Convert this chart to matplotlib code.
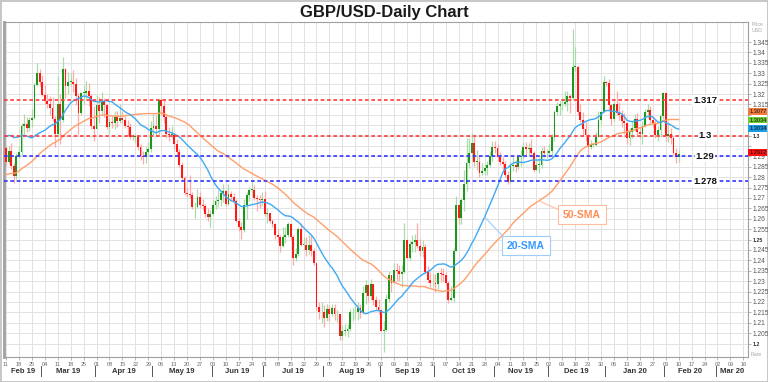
import numpy as np
import pandas as pd
import matplotlib.pyplot as plt
import matplotlib.transforms as mtransforms

plt.rcParams['font.family'] = ['Liberation Sans', 'DejaVu Sans']

# closes from 3 Dec 2018 to 8 Feb 2019, only used to seed the moving averages
prior_closes = [1.2740, 1.2725, 1.2735, 1.2770, 1.2725,
                1.2560, 1.2490, 1.2640, 1.2640, 1.2580,
                1.2625, 1.2650, 1.2630, 1.2660, 1.2650,
                1.2680, 1.2675, 1.2630, 1.2650, 1.2720,
                1.2750, 1.2750, 1.2610, 1.2635, 1.2730,
                1.2780, 1.2730, 1.2745, 1.2760, 1.2860,
                1.2870, 1.2830, 1.2865, 1.3000, 1.2875,
                1.2870, 1.2930, 1.3045, 1.3070, 1.3190,
                1.3165, 1.3075, 1.3120, 1.3115, 1.3075,
                1.3045, 1.2945, 1.2940, 1.2945, 1.2940]

# daily candles, 11 Feb 2019 - 10 Feb 2020 (one row per week)
closes = [1.2875, 1.2925, 1.2855, 1.2805, 1.2900,
          1.2920, 1.3045, 1.3055, 1.3035, 1.3075,
          1.3085, 1.3245, 1.3300, 1.3260, 1.3195,
          1.3165, 1.3150, 1.3135, 1.3080, 1.3010,
          1.3150, 1.3075, 1.3320, 1.3240, 1.3260,
          1.3260, 1.3250, 1.3190, 1.3110, 1.3205,
          1.3205, 1.3215, 1.3190, 1.3045, 1.3030,
          1.3145, 1.3120, 1.3165, 1.3145, 1.3040,
          1.3065, 1.3060, 1.3090, 1.3070, 1.3085,
          1.3075, 1.3045, 1.3040, 1.2995, 1.2995,
          1.2995, 1.2945, 1.2900, 1.2895, 1.2920,
          1.2935, 1.3035, 1.3045, 1.3030, 1.3170,
          1.3140, 1.3090, 1.3010, 1.3005, 1.3005,
          1.2960, 1.2920, 1.2860, 1.2795, 1.2725,
          1.2720, 1.2715, 1.2655, 1.2655, 1.2705,
          1.2665, 1.2660, 1.2625, 1.2610, 1.2625,
          1.2665, 1.2685, 1.2690, 1.2725, 1.2735,
          1.2670, 1.2720, 1.2705, 1.2685, 1.2590,
          1.2560, 1.2545, 1.2665, 1.2715, 1.2740,
          1.2740, 1.2700, 1.2695, 1.2690, 1.2695,
          1.2625, 1.2630, 1.2590, 1.2575, 1.2520,
          1.2510, 1.2470, 1.2510, 1.2520, 1.2575,
          1.2510, 1.2410, 1.2430, 1.2550, 1.2475,
          1.2475, 1.2450, 1.2475, 1.2445, 1.2385,
          1.2175, 1.2150, 1.2150, 1.2125, 1.2165,
          1.2140, 1.2170, 1.2140, 1.2140, 1.2035,
          1.2060, 1.2060, 1.2070, 1.2150, 1.2150,
          1.2150, 1.2170, 1.2145, 1.2245, 1.2280,
          1.2230, 1.2285, 1.2210, 1.2175, 1.2160,
          1.2060, 1.2065, 1.2215, 1.2330, 1.2290,
          1.2355, 1.2350, 1.2335, 1.2345, 1.2500,
          1.2410, 1.2480, 1.2490, 1.2500, 1.2470,
          1.2445, 1.2465, 1.2345, 1.2305, 1.2290,
          1.2290, 1.2285, 1.2340, 1.2335, 1.2330,
          1.2290, 1.2210, 1.2220, 1.2445, 1.2665,
          1.2605, 1.2690, 1.2765, 1.2870, 1.2915,
          1.2965, 1.2875, 1.2875, 1.2820, 1.2830,
          1.2845, 1.2860, 1.2900, 1.2945, 1.2940,
          1.2895, 1.2875, 1.2865, 1.2810, 1.2775,
          1.2855, 1.2860, 1.2850, 1.2895, 1.2900,
          1.2945, 1.2935, 1.2940, 1.2915, 1.2835,
          1.2860, 1.2860, 1.2925, 1.2915, 1.2915,
          1.2925, 1.2995, 1.3115, 1.3140, 1.3150,
          1.3150, 1.3160, 1.3190, 1.3180, 1.3330,
          1.3330, 1.3115, 1.3075, 1.3030, 1.3005,
          1.2945, 1.2955, 1.2955, 1.2995, 1.3075,
          1.3115, 1.3260, 1.3255, 1.3145, 1.3080,
          1.3150, 1.3110, 1.3100, 1.3070, 1.3060,
          1.2990, 1.3015, 1.3035, 1.3080, 1.3015,
          1.3010, 1.3045, 1.3115, 1.3125, 1.3075,
          1.3060, 1.3005, 1.3025, 1.3095, 1.3205,
          1.3000, 1.3010, 1.2990, 1.2915, 1.2895,
          1.2912]

highs = [1.2950, 1.2950, 1.2965, 1.2870, 1.2915,
         1.2950, 1.3060, 1.3105, 1.3090, 1.3090,
         1.3130, 1.3255, 1.3350, 1.3320, 1.3290,
         1.3245, 1.3200, 1.3190, 1.3185, 1.3095,
         1.3285, 1.3200, 1.3380, 1.3325, 1.3305,
         1.3300, 1.3315, 1.3275, 1.3205, 1.3210,
         1.3245, 1.3265, 1.3255, 1.3200, 1.3140,
         1.3195, 1.3185, 1.3210, 1.3180, 1.3150,
         1.3085, 1.3095, 1.3120, 1.3120, 1.3150,
         1.3120, 1.3095, 1.3075, 1.3060, 1.3010,
         1.3010, 1.3005, 1.2960, 1.2925, 1.2945,
         1.2970, 1.3070, 1.3105, 1.3100, 1.3176,
         1.3180, 1.3175, 1.3100, 1.3040, 1.3045,
         1.3015, 1.2985, 1.2935, 1.2875, 1.2805,
         1.2750, 1.2810, 1.2730, 1.2680, 1.2745,
         1.2730, 1.2695, 1.2670, 1.2650, 1.2640,
         1.2690, 1.2710, 1.2740, 1.2740, 1.2765,
         1.2740, 1.2765, 1.2735, 1.2725, 1.2695,
         1.2605, 1.2585, 1.2695, 1.2730, 1.2755,
         1.2785, 1.2760, 1.2715, 1.2715, 1.2730,
         1.2735, 1.2650, 1.2630, 1.2600, 1.2580,
         1.2550, 1.2520, 1.2560, 1.2560, 1.2585,
         1.2580, 1.2520, 1.2460, 1.2560, 1.2580,
         1.2510, 1.2510, 1.2520, 1.2520, 1.2460,
         1.2385, 1.2200, 1.2200, 1.2185, 1.2190,
         1.2185, 1.2190, 1.2190, 1.2160, 1.2140,
         1.2090, 1.2095, 1.2095, 1.2165, 1.2170,
         1.2180, 1.2200, 1.2190, 1.2275, 1.2305,
         1.2280, 1.2310, 1.2285, 1.2230, 1.2215,
         1.2160, 1.2110, 1.2240, 1.2350, 1.2330,
         1.2385, 1.2385, 1.2380, 1.2380, 1.2580,
         1.2505, 1.2495, 1.2520, 1.2525, 1.2580,
         1.2505, 1.2500, 1.2480, 1.2375, 1.2345,
         1.2335, 1.2335, 1.2345, 1.2365, 1.2365,
         1.2345, 1.2300, 1.2275, 1.2460, 1.2710,
         1.2665, 1.2700, 1.2835, 1.2990, 1.2990,
         1.3012, 1.3000, 1.2930, 1.2900, 1.2870,
         1.2865, 1.2880, 1.2925, 1.2975, 1.2975,
         1.2960, 1.2920, 1.2895, 1.2880, 1.2830,
         1.2875, 1.2895, 1.2885, 1.2900, 1.2930,
         1.2970, 1.2970, 1.2965, 1.2985, 1.2925,
         1.2890, 1.2895, 1.2945, 1.2950, 1.2935,
         1.2960, 1.3010, 1.3125, 1.3160, 1.3165,
         1.3180, 1.3215, 1.3215, 1.3200, 1.3514,
         1.3425, 1.3340, 1.3150, 1.3115, 1.3065,
         1.3010, 1.2980, 1.2965, 1.3015, 1.3120,
         1.3120, 1.3285, 1.3265, 1.3270, 1.3150,
         1.3165, 1.3215, 1.3160, 1.3125, 1.3110,
         1.3060, 1.3035, 1.3070, 1.3105, 1.3110,
         1.3040, 1.3070, 1.3130, 1.3150, 1.3140,
         1.3095, 1.3075, 1.3045, 1.3105, 1.3210,
         1.3210, 1.3070, 1.3035, 1.3000, 1.2940,
         1.2935]

lows = [1.2855, 1.2865, 1.2840, 1.2773, 1.2790,
        1.2890, 1.2900, 1.3000, 1.3015, 1.3020,
        1.3040, 1.3080, 1.3240, 1.3240, 1.3190,
        1.3150, 1.3135, 1.3100, 1.3070, 1.2945,
        1.3000, 1.2960, 1.3065, 1.3180, 1.3200,
        1.3240, 1.3210, 1.3145, 1.3005, 1.3100,
        1.3150, 1.3180, 1.3140, 1.3030, 1.2975,
        1.3030, 1.3060, 1.3100, 1.3090, 1.3030,
        1.3010, 1.3035, 1.3030, 1.3040, 1.3060,
        1.3060, 1.3035, 1.3000, 1.2985, 1.2980,
        1.2965, 1.2930, 1.2885, 1.2865, 1.2870,
        1.2900, 1.2920, 1.3000, 1.3000, 1.3000,
        1.3100, 1.3060, 1.2990, 1.2975, 1.2990,
        1.2935, 1.2900, 1.2850, 1.2780, 1.2715,
        1.2705, 1.2700, 1.2645, 1.2605, 1.2650,
        1.2650, 1.2640, 1.2610, 1.2590, 1.2560,
        1.2620, 1.2645, 1.2655, 1.2660, 1.2680,
        1.2660, 1.2665, 1.2685, 1.2670, 1.2585,
        1.2540, 1.2505, 1.2535, 1.2600, 1.2685,
        1.2710, 1.2690, 1.2635, 1.2650, 1.2665,
        1.2615, 1.2580, 1.2580, 1.2560, 1.2505,
        1.2490, 1.2440, 1.2465, 1.2485, 1.2510,
        1.2500, 1.2380, 1.2395, 1.2420, 1.2470,
        1.2450, 1.2420, 1.2430, 1.2420, 1.2380,
        1.2160, 1.2120, 1.2100, 1.2080, 1.2110,
        1.2110, 1.2130, 1.2115, 1.2105, 1.2015,
        1.2015, 1.2035, 1.2030, 1.2060, 1.2110,
        1.2120, 1.2115, 1.2125, 1.2140, 1.2190,
        1.2200, 1.2210, 1.2185, 1.2160, 1.2140,
        1.2060, 1.1958, 1.2060, 1.2200, 1.2250,
        1.2290, 1.2300, 1.2300, 1.2270, 1.2340,
        1.2405, 1.2400, 1.2440, 1.2440, 1.2460,
        1.2420, 1.2415, 1.2340, 1.2290, 1.2270,
        1.2270, 1.2250, 1.2260, 1.2295, 1.2300,
        1.2275, 1.2195, 1.2205, 1.2200, 1.2445,
        1.2575, 1.2575, 1.2635, 1.2735, 1.2845,
        1.2880, 1.2855, 1.2835, 1.2800, 1.2810,
        1.2810, 1.2810, 1.2850, 1.2880, 1.2915,
        1.2880, 1.2860, 1.2835, 1.2800, 1.2765,
        1.2770, 1.2830, 1.2825, 1.2840, 1.2855,
        1.2890, 1.2905, 1.2900, 1.2895, 1.2825,
        1.2835, 1.2820, 1.2845, 1.2895, 1.2890,
        1.2900, 1.2895, 1.2975, 1.3100, 1.3100,
        1.3125, 1.3140, 1.3120, 1.3110, 1.3170,
        1.3310, 1.3100, 1.3065, 1.3000, 1.2975,
        1.2905, 1.2935, 1.2945, 1.2950, 1.2995,
        1.3055, 1.3115, 1.3240, 1.3125, 1.3050,
        1.3070, 1.3100, 1.3075, 1.3040, 1.3010,
        1.2960, 1.2955, 1.2990, 1.3020, 1.3005,
        1.2990, 1.2960, 1.3040, 1.3085, 1.3060,
        1.3040, 1.2990, 1.2975, 1.2995, 1.3080,
        1.2975, 1.2970, 1.2960, 1.2905, 1.2870,
        1.2875]

red_levels = [1.317, 1.30]
blue_levels = [1.29, 1.278]
level_text = {1.317: '1.317', 1.30: '1.3', 1.29: '1.29', 1.278: '1.278'}
# price tags on the right axis: 50-SMA, 20-SMA (twice) and last price
tag_text = ['1.3077', '1.3034', '1.3034', '1.2912']
tag_colors = ['#f47b3a', '#6fcf2f', '#1a9be6', '#ff1010']

start = '2019-02-11'
dates = pd.bdate_range(start, periods=len(closes))
axis_dates = pd.bdate_range(start, '2020-03-20')

c = np.array(closes)
h = np.array(highs)
l = np.array(lows)
o = np.r_[prior_closes[-1], c[:-1]]
x = np.arange(len(c))

full = pd.Series(prior_closes + closes)
sma20 = full.rolling(20).mean().values[len(prior_closes):]
sma50 = full.rolling(50).mean().values[len(prior_closes):]

fig = plt.figure(figsize=(7.68, 3.82), dpi=100)
fig.patch.set_edgecolor('#c8c8c8')
fig.patch.set_linewidth(2)
ax = fig.add_axes([4 / 768, 25 / 382, 744 / 768, 335 / 382])

# candles
up = c >= o
body_lo = np.minimum(o, c)
body_h = np.maximum(np.abs(c - o), 0.0003)
ax.vlines(x[up], l[up], h[up], color='#a9dca9', lw=0.9, zorder=2)
ax.vlines(x[~up], l[~up], h[~up], color='#ffaaaa', lw=0.9, zorder=2)
ax.bar(x[up], body_h[up], bottom=body_lo[up], width=0.72, color='#1e961e', lw=0, zorder=3)
ax.bar(x[~up], body_h[~up], bottom=body_lo[~up], width=0.72, color='#ff1a1a', lw=0, zorder=3)

# moving averages
ax.plot(x, sma50, color='#ff9f6b', lw=1.0, zorder=4)
ax.plot(x, sma20, color='#3fa9f5', lw=1.0, zorder=4)

# support / resistance levels
xlab = 270.2
for lev in red_levels + blue_levels:
    col = '#ff3b3b' if lev in red_levels else '#3535ff'
    ax.axhline(lev, color=col, lw=1.2, ls=(0, (2.2, 1.6)), zorder=5)
    ax.text(xlab, lev, level_text[lev], ha='center', va='center', fontsize=6.8,
            fontweight='bold', color='#111111', zorder=6,
            bbox=dict(facecolor='white', edgecolor='none', pad=0.6))

# annotations
ax.annotate('20-SMA', xy=(185, sma20[185]), xytext=(201, 1.2471),
            ha='center', va='center', fontsize=7.5, fontweight='bold', color='#3399ff',
            bbox=dict(boxstyle='square,pad=0.45', fc='white', ec='#9fcdf8', lw=0.8),
            arrowprops=dict(arrowstyle='-', color='#9fcdf8', lw=0.8, relpos=(0, 1),
                            shrinkA=0, shrinkB=0), zorder=7)
ax.annotate('50-SMA', xy=(206, sma50[206]), xytext=(222.6, 1.2620),
            ha='center', va='center', fontsize=7.5, fontweight='bold', color='#ff8c55',
            bbox=dict(boxstyle='square,pad=0.45', fc='white', ec='#ffbf9f', lw=0.8),
            arrowprops=dict(arrowstyle='-', color='#ffbf9f', lw=0.8, relpos=(0, 0.8),
                            shrinkA=0, shrinkB=0), zorder=7)

# axes
x0, x1 = -0.77, 286.8
ax.set_xlim(x0, x1)
ax.set_ylim(1.19351, 1.35464)

mondays = [i for i, d in enumerate(axis_dates) if d.weekday() == 0]
ax.set_xticks(mondays)
ax.set_xticklabels([axis_dates[i].strftime('%d') for i in mondays], fontsize=4, color='#666666')
ax.tick_params(axis='x', length=2, width=0.5, color='#999999', pad=1.5)

# right axis; the labels under the price tags are hidden as in the original
yt = np.round(np.arange(1.2, 1.3451, 0.005), 3)
hidden = {1.31, 1.305, 1.295}
ax.yaxis.tick_right()
ax.set_yticks(yt)
labs = ax.set_yticklabels(['' if v in hidden else f'{v:.3f}'.rstrip('0') for v in yt],
                          fontsize=4.8, color='#555555')
for v, t in zip(yt, labs):
    if abs(round(v / 0.05) * 0.05 - v) < 1e-9:
        t.set_fontweight('bold')
        t.set_fontsize(3.8)
        t.set_color('#333333')
ax.tick_params(axis='y', length=2, width=0.5, color='#999999', pad=1)

ax.grid(True, color='#e2e2e2', lw=0.7, zorder=0)
ax.set_axisbelow(True)
for s in ax.spines.values():
    s.set_color('#a0a0a0')
    s.set_linewidth(0.8)
ax.spines['left'].set_linewidth(2)

# month labels and separators
blend = mtransforms.blended_transform_factory(ax.transData, ax.transAxes)
months = pd.Series(range(len(axis_dates)), index=axis_dates).groupby(axis_dates.to_period('M'))
firsts = [(p, g.iloc[0]) for p, g in months]
for k, (p, f) in enumerate(firsts):
    a = max(f - 0.5, x0)
    b = firsts[k + 1][1] - 0.5 if k + 1 < len(firsts) else x1
    ax.text((a + b) / 2, -0.042, p.strftime('%b %y'), transform=blend, ha='center', va='center',
            fontsize=5.5, fontweight='bold', color='#333333', clip_on=False)
    if k > 0:
        ax.plot([f - 0.5, f - 0.5], [-0.028, -0.056], transform=blend, color='#555555',
                lw=0.7, clip_on=False)

# price tags on the right axis
tblend = mtransforms.blended_transform_factory(ax.transAxes, ax.transData)
for txt, col, yy in zip(tag_text, tag_colors, [1.3116, 1.3075, 1.3034, 1.2918]):
    ax.text(1.0015, yy, txt, transform=tblend, ha='left', va='center', fontsize=4.1,
            color='#111111', zorder=8, clip_on=False,
            bbox=dict(facecolor=col, edgecolor='none', pad=0.55))

fig.text(752 / 768, 1 - 25 / 382, 'Price', fontsize=3.8, color='#aaaaaa', va='center')
fig.text(752 / 768, 1 - 31 / 382, 'USD', fontsize=3.8, color='#aaaaaa', va='center')
fig.text(751 / 768, 1 - 355 / 382, 'Rate', fontsize=3.8, color='#aaaaaa', va='center')

fig.text(0.5, 1 - 12 / 382, 'GBP/USD-Daily Chart', ha='center', va='center',
         fontsize=12, fontweight='bold', color='#1a1a1a')

fig.savefig('out.png', dpi=100)
